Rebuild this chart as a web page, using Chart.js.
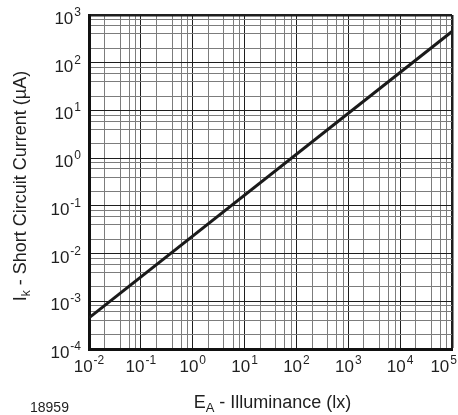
<!DOCTYPE html>
<html>
<head>
<meta charset="utf-8">
<script src="https://cdn.jsdelivr.net/npm/chart.js@4"></script>
<style>
  html, body { margin: 0; padding: 0; background: #fff; }
  canvas { display: block; }
</style>
</head>
<body>
<canvas id="chart" width="458" height="415"></canvas>
<script>
// short circuit current vs illuminance
const illuminance = [0.01, 100000];    // lx
const current = [0.00045, 450];        // µA

const xDecades = [-2, -1, 0, 1, 2, 3, 4, 5];
const yDecades = [-4, -3, -2, -1, 0, 1, 2, 3];
const minorSteps = [1, 2, 4, 6, 8];

const FONT = '"Liberation Sans", Arial, Helvetica, sans-serif';
const INK = '#1f1f1f';

function logTicks(decades) {
  const out = [];
  decades.forEach((e, i) => {
    minorSteps.forEach(m => {
      if (i === decades.length - 1 && m > 1) return;
      out.push({ value: m * Math.pow(10, e) });
    });
  });
  return out;
}

function isDecade(v) {
  const l = Math.log10(v);
  return Math.abs(l - Math.round(l)) < 1e-9;
}

function gridOpts(maxVal) {
  return {
    drawTicks: false,
    color: ctx => (ctx.tick && isDecade(ctx.tick.value)) ? '#1e1e1e' : '#7c7c7c',
    lineWidth: ctx => (ctx.tick && Math.abs(ctx.tick.value - maxVal) < 1e-6 * maxVal) ? 2.5 : 1
  };
}

// "10" with a raised exponent
function powerWidth(ctx, exp) {
  ctx.font = '17px ' + FONT;
  const w1 = ctx.measureText('10').width;
  ctx.font = '12px ' + FONT;
  return w1 + 1 + ctx.measureText(String(exp)).width;
}

function drawPower(ctx, exp, left, baseline) {
  ctx.textAlign = 'left';
  ctx.textBaseline = 'alphabetic';
  ctx.font = '17px ' + FONT;
  ctx.fillText('10', left, baseline);
  const w1 = ctx.measureText('10').width;
  ctx.font = '12px ' + FONT;
  ctx.fillText(String(exp), left + w1 + 1, baseline - 8);
}

const labelPlugin = {
  id: 'labels',
  afterDraw(chart) {
    const ctx = chart.ctx;
    const xs = chart.scales.x, ys = chart.scales.y;
    ctx.save();
    ctx.fillStyle = INK;

    xDecades.forEach(e => {
      const px = xs.getPixelForValue(Math.pow(10, e));
      const w = powerWidth(ctx, e);
      let left = px - w / 2;
      if (left + w > 457) left = 457 - w;
      drawPower(ctx, e, left, 372);
    });

    yDecades.forEach(e => {
      const py = ys.getPixelForValue(Math.pow(10, e));
      const w = powerWidth(ctx, e);
      drawPower(ctx, e, 81 - w, py + 9);
    });

    // x title: E_A - Illuminance (lx)
    ctx.font = '18px ' + FONT;
    const wE = ctx.measureText('E').width;
    const rest = ' - Illuminance (lx)';
    const wRest = ctx.measureText(rest).width;
    ctx.font = '13px ' + FONT;
    const wA = ctx.measureText('A').width;
    const cx = (chart.chartArea.left + chart.chartArea.right) / 2 + 2;
    let x0 = cx - (wE + wA + wRest) / 2;
    ctx.textAlign = 'left';
    ctx.font = '18px ' + FONT;
    ctx.fillText('E', x0, 408);
    ctx.font = '13px ' + FONT;
    ctx.fillText('A', x0 + wE, 412);
    ctx.font = '18px ' + FONT;
    ctx.fillText(rest, x0 + wE + wA, 408);

    // y title: I_k - Short Circuit Current (µA)
    ctx.save();
    ctx.translate(26, (chart.chartArea.top + chart.chartArea.bottom) / 2 + 4);
    ctx.rotate(-Math.PI / 2);
    ctx.font = '18px ' + FONT;
    const wI = ctx.measureText('I').width;
    const yRest = ' - Short Circuit Current (µA)';
    const wYRest = ctx.measureText(yRest).width;
    ctx.font = '12px ' + FONT;
    const wk = ctx.measureText('k').width;
    x0 = -(wI + wk + wYRest) / 2;
    ctx.font = '18px ' + FONT;
    ctx.fillText('I', x0, 0);
    ctx.font = '12px ' + FONT;
    ctx.fillText('k', x0 + wI, 4);
    ctx.font = '18px ' + FONT;
    ctx.fillText(yRest, x0 + wI + wk, 0);
    ctx.restore();

    // figure number
    ctx.font = '14px ' + FONT;
    ctx.fillText('18959', 30, 412);
    ctx.restore();
  }
};

const points = illuminance.map((x, i) => ({ x: x, y: current[i] }));

new Chart(document.getElementById('chart'), {
  type: 'line',
  data: {
    datasets: [{
      data: points,
      borderColor: '#1a1a1a',
      borderWidth: 3,
      pointRadius: 0,
      tension: 0,
      fill: false
    }]
  },
  options: {
    responsive: false,
    animation: false,
    layout: { padding: { left: 89, right: 6, top: 15, bottom: 66 } },
    plugins: { legend: { display: false }, tooltip: { enabled: false } },
    scales: {
      x: {
        type: 'logarithmic',
        min: 0.01,
        max: 100000,
        afterBuildTicks: s => { s.ticks = logTicks(xDecades); },
        ticks: { display: false },
        grid: gridOpts(100000),
        border: { color: '#111', width: 3 }
      },
      y: {
        type: 'logarithmic',
        min: 0.0001,
        max: 1000,
        afterBuildTicks: s => { s.ticks = logTicks(yDecades); },
        ticks: { display: false },
        grid: gridOpts(1000),
        border: { color: '#111', width: 3 }
      }
    }
  },
  plugins: [labelPlugin]
});
</script>
</body>
</html>
